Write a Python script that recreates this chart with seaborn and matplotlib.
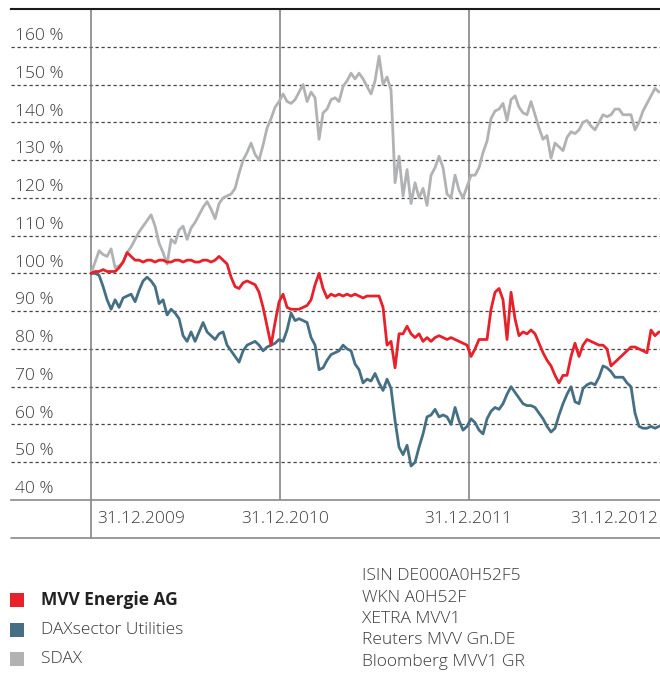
import matplotlib
matplotlib.use("Agg")
import matplotlib.pyplot as plt
import numpy as np
import pandas as pd
import seaborn as sns
from matplotlib.patches import Rectangle

# indexed share price, 31.12.2009 = 100 %, roughly weekly points
sdax = [100, 103, 106, 105, 104.5, 106.5, 101.5, 102, 103, 105.5, 107, 109, 111, 112.5, 114, 115.5,
        112.5, 108, 105.5, 102.5, 109, 108, 111.5, 112.5, 109, 112, 113.5, 115.5, 117.5, 119, 117, 114.5,
        118.5, 120, 120.5, 121, 122.5, 126.5, 130, 132, 134.5, 131.5, 130, 134, 138.5, 141, 144, 145.5,
        147.5, 145.5, 145, 146, 148, 150, 145.5, 148, 146.5, 135.5, 142.5, 143.5, 146, 146.5, 145.5, 149.5,
        151, 153, 151.5, 153, 151.5, 149.5, 147.5, 151, 157.5, 150, 152, 148.5, 124, 131, 120.5, 127.5,
        118.5, 124, 120, 122.5, 118, 126, 128, 131, 128, 121, 120, 126, 122, 120, 123,
        126, 126, 128, 132, 135, 141, 143, 143.5, 145, 140.5, 146, 147, 144, 142.5, 142, 145.5,
        142, 138.5, 135.5, 136.5, 130.5, 134.5, 133.5, 132.5, 136, 137.5, 137, 138, 140, 140.5, 139, 138,
        140, 142, 141.5, 142, 143.5, 143.5, 142, 142, 142, 138, 140, 143, 145, 147, 149, 148]

dax_utilities = [100, 100, 99.5, 96.5, 93, 90.5, 93, 91, 93.5, 94, 94.5, 92.5, 95.5, 98, 99, 98,
                 96.5, 92, 93, 89, 90.5, 89.5, 88, 83.5, 82, 84.5, 82, 84.5, 87, 84.5, 83.5, 82.5,
                 84, 84.5, 81, 79.5, 78, 76.5, 79.5, 81, 81.5, 82, 81, 79.5, 80.5, 81, 81.5, 82.5,
                 82, 85, 89.5, 87.5, 88, 87.5, 87, 83, 81, 74.5, 75, 77, 78.5, 79, 79.5, 81,
                 80, 79.5, 76, 74.5, 71, 72, 71.5, 73.5, 71, 69, 72, 69.5, 61, 54, 52, 54.5,
                 49, 50, 54, 57.5, 62, 62.5, 64, 62, 62.5, 62, 60, 64.5, 61, 58.5, 59.5,
                 61.5, 60.5, 58.5, 57.5, 61.5, 63.5, 64.5, 64, 65.5, 68, 70, 68.5, 67, 65.5, 65, 65,
                 64.5, 63, 61.5, 59.5, 58, 59, 62.5, 65.5, 68, 70, 66, 65.5, 69.5, 70.5, 71, 70.5,
                 72.5, 75.5, 75, 74, 72.5, 72.5, 72.5, 71, 70, 63, 59.5, 59, 59, 59.5, 59, 59.5]

mvv = [100, 100.5, 100.5, 101, 100.5, 100.5, 100.5, 101.5, 103, 105.5, 104.5, 103.5, 103.5, 103, 103.5, 103.5,
       103, 103.5, 103.5, 103, 103, 103.5, 103.5, 103, 103.5, 103.5, 103, 103, 103.5, 103.5, 103, 103.5,
       104.5, 103.5, 102.5, 99, 96.5, 96, 97.5, 98, 97.5, 97, 95, 91, 86, 81, 87, 92.5,
       94.5, 91, 90.5, 90.5, 90.5, 91, 91.5, 93, 97, 100, 96, 93.5, 94.5, 94, 94.5, 94,
       94.5, 94, 94.5, 94, 93.5, 94, 94, 94, 94, 91, 81, 82, 75, 84, 84, 86,
       84, 83, 84, 82, 83, 82, 83, 83.5, 83, 82.5, 83, 82.5, 82, 81.5, 81,
       78, 80, 82.5, 82.5, 82.5, 90.5, 95, 96, 93, 82.5, 95, 88, 83.5, 84.5, 84, 85,
       84, 81.5, 79, 77, 75.5, 73, 71, 73, 73, 78, 81.5, 78, 81, 82.5, 82, 81.5,
       81, 81, 80, 75.5, 76.5, 77.5, 78.5, 79.5, 80.5, 80.5, 80, 79.5, 79, 85, 83.5, 84.5]

series_names = ["SDAX", "DAXsector Utilities", "MVV Energie AG"]
series_colors = ["#b1b2b4", "#456f83", "#e8202a"]
year_ends = ["2009-12-31", "2010-12-31", "2011-12-31"]
date_labels = ["31.12.2009", "31.12.2010", "31.12.2011", "31.12.2012"]
y_levels = [40, 50, 60, 70, 80, 90, 100, 110, 120, 130, 140, 150, 160]
info_lines = ["ISIN DE000A0H52F5", "WKN A0H52F", "XETRA MVV1", "Reuters MVV Gn.DE", "Bloomberg MVV1 GR"]

dates = pd.date_range("2009-12-31", "2012-12-31", periods=len(mvv))
df = pd.DataFrame({
    "date": np.tile(dates, 3),
    "value": sdax + dax_utilities + mvv,
    "series": np.repeat(series_names, len(mvv)),
})

sns.set_theme(style="white")
plt.rcParams['font.family'] = ['Open Sans', 'DejaVu Sans']
text_col = "#3a3a3a"
light = "light"

W, H = 660, 684
fig = plt.figure(figsize=(W / 100, H / 100), dpi=100)
ax = fig.add_axes([11 / W, 1 - 500 / H, 649 / W, 491 / H])

sns.lineplot(data=df, x="date", y="value", hue="series", hue_order=series_names,
             palette=series_colors, linewidth=2.0, legend=False, estimator=None, ax=ax, zorder=3)

year_px = 189.0
ax.set_xlim(dates[0] - pd.Timedelta(days=80 / year_px * 365.25),
            dates[-1] + pd.Timedelta(days=1 / year_px * 365.25))
ax.set_ylim(40, 170)
ax.set_xticks([])
ax.set_yticks([])
ax.set_xlabel("")
ax.set_ylabel("")

for s in ["left", "right"]:
    ax.spines[s].set_visible(False)
ax.spines["top"].set_color("#1a1a1a")
ax.spines["top"].set_linewidth(1.5)
ax.spines["bottom"].set_color("#8a8a8a")
ax.spines["bottom"].set_linewidth(1.2)

for v in y_levels[1:]:
    ax.axhline(v, color="#444444", lw=0.9, ls=(0, (2.6, 2.2)), zorder=1)
for v in y_levels:
    ax.text(0.006, v + 1.8, f"{v} %", transform=ax.get_yaxis_transform(),
            ha="left", va="baseline", fontsize=12.5, color=text_col, fontweight=light)

for d in year_ends:
    ax.axvline(pd.Timestamp(d), color="#7a7a7a", lw=1.1, zorder=2)

# lower band holding the date labels
band = -38 / 491
ax.plot([pd.Timestamp(year_ends[0])] * 2, [0, band], transform=ax.get_xaxis_transform(),
        color="#7a7a7a", lw=1.1, clip_on=False)
ax.plot([0, 1], [band, band], transform=ax.transAxes, color="#8a8a8a", lw=1.2, clip_on=False)

label_x = [141, 285, 468, 614]
for px, lab in zip(label_x, date_labels):
    ax.text((px - 11) / 649, band / 2, lab, transform=ax.transAxes,
            ha="center", va="center", fontsize=12.5, color=text_col, fontweight=light)

# legend
legend_y = [600, 630, 659]
for y, name, col in zip(legend_y, series_names[::-1], series_colors[::-1]):
    fig.add_artist(Rectangle((10 / W, 1 - (y + 7) / H), 14 / W, 14 / H,
                             transform=fig.transFigure, color=col, lw=0))
    fig.text(41 / W, 1 - y / H, name, ha="left", va="center", fontsize=12.5,
             color="#222222" if name == "MVV Energie AG" else text_col,
             fontweight="bold" if name == "MVV Energie AG" else light)

for i, line in enumerate(info_lines):
    fig.text(362 / W, 1 - (576 + i * 21.5) / H, line, ha="left", va="center",
             fontsize=12.5, color=text_col, fontweight=light)

fig.savefig("out.png", dpi=100)
